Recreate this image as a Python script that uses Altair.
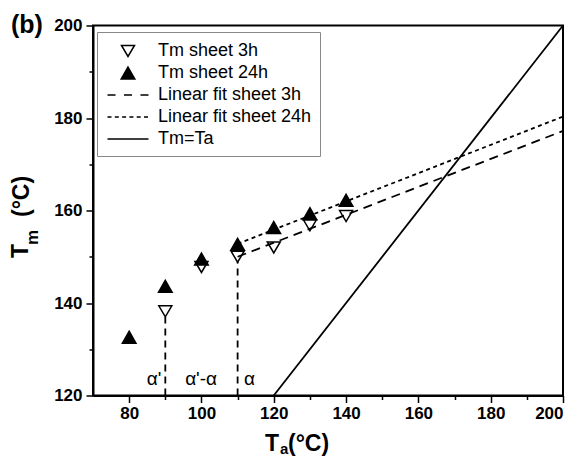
import altair as alt
import pandas as pd

# ---- data ----
ta_3h = [90, 100, 110, 120, 130, 140]
tm_3h = [138.2, 147.8, 150.0, 152.0, 156.8, 158.8]
ta_24h = [80, 90, 100, 110, 120, 130, 140]
tm_24h = [132.6, 143.6, 149.5, 152.7, 156.3, 159.3, 162.2]

fit3_ta = [110, 200]
fit3_tm = [150.0, 177.2]
fit24_ta = [110, 200]
fit24_tm = [152.8, 180.3]
eq_ta = [120, 200]
eq_tm = [120, 200]

phase_ta = [90, 110]
phase_lo = [120, 120]
phase_hi = [137.0, 149.0]

ann_text = ["α'", "α'-α", "α"]
ann_ta = [86.9, 99.9, 113.3]
ann_tm = [122.2, 122.2, 122.2]

series_labels = ["Tm sheet 3h", "Tm sheet 24h", "Linear fit sheet 3h",
                 "Linear fit sheet 24h", "Tm=Ta"]

x_major = [80, 100, 120, 140, 160, 180, 200]
x_minor = [90, 110, 130, 150, 170, 190]
y_major = [120, 140, 160, 180, 200]
y_minor = [130, 150, 170, 190]

# ---- symbol paths (unit space) ----
TRI_DOWN = "M-0.65,-0.55L0.65,-0.55L0,0.55Z"
TRI_UP = "M0,-0.6L0.68,0.6L-0.68,0.6Z"
DASH = "M-2.05,0L-1.25,0M-0.4,0L0.4,0M1.25,0L2.05,0"
DOT = ("M-2.05,0L-1.65,0M-1.32,0L-0.92,0M-0.59,0L-0.19,0"
       "M0.14,0L0.54,0M0.87,0L1.27,0M1.6,0L2.0,0")
SOLID = "M-2.05,0L2.05,0"

FONT = "Liberation Sans"

pts = pd.DataFrame({
    "ta": ta_3h + ta_24h,
    "tm": tm_3h + tm_24h,
    "series": [series_labels[0]] * len(ta_3h) + [series_labels[1]] * len(ta_24h),
})
fit3 = pd.DataFrame({"ta": fit3_ta, "tm": fit3_tm})
fit24 = pd.DataFrame({"ta": fit24_ta, "tm": fit24_tm})
eq = pd.DataFrame({"ta": eq_ta, "tm": eq_tm})
phase = pd.DataFrame({"ta": phase_ta, "lo": phase_lo, "hi": phase_hi})
ann = pd.DataFrame({"ta": ann_ta, "tm": ann_tm, "txt": ann_text})

xs = alt.Scale(domain=[70, 200], nice=False, zero=False)
ys = alt.Scale(domain=[120, 200], nice=False, zero=False)

major_x = alt.Axis(values=x_major, tickSize=7, title=None, orient="bottom",
                   labelPadding=3, grid=False)
major_y = alt.Axis(values=y_major, tickSize=7, title=None, orient="left",
                   labelPadding=4, grid=False)
minor_x = alt.Axis(values=x_minor, tickSize=4, labels=False, domain=False,
                   title=None, orient="bottom", grid=False)
minor_y = alt.Axis(values=y_minor, tickSize=4, labels=False, domain=False,
                   title=None, orient="left", grid=False)

leg = alt.Legend(orient="none", legendX=4, legendY=6.5, strokeColor="#888888",
                 fillColor="white", padding=8, labelFont=FONT, labelFontSize=18,
                 labelColor="black", symbolSize=400, symbolStrokeColor="black",
                 symbolStrokeWidth=1.5, symbolOffset=12, labelOffset=19,
                 rowPadding=2)

base_x = alt.X("ta:Q", scale=xs, axis=None)
base_y = alt.Y("tm:Q", scale=ys, axis=None)

fit3_layer = alt.Chart(fit3).mark_line(color="black", strokeWidth=1.8,
                                       strokeDash=[9, 6]).encode(x=base_x, y=base_y)
fit24_layer = alt.Chart(fit24).mark_line(color="black", strokeWidth=1.8,
                                         strokeDash=[4, 3.5]).encode(x=base_x, y=base_y)
eq_layer = alt.Chart(eq).mark_line(color="black", strokeWidth=1.8).encode(
    x=alt.X("ta:Q", scale=xs, axis=minor_x),
    y=alt.Y("tm:Q", scale=ys, axis=minor_y))
phase_layer = alt.Chart(phase).mark_rule(color="black", strokeWidth=1.8,
                                         strokeDash=[7, 5]).encode(
    x=base_x, y=alt.Y("lo:Q", scale=ys, axis=None), y2="hi:Q")

pts_layer = alt.Chart(pts).mark_point(filled=True, size=400,
                                      strokeWidth=1.5, opacity=1).encode(
    x=alt.X("ta:Q", scale=xs, axis=major_x),
    y=alt.Y("tm:Q", scale=ys, axis=major_y),
    shape=alt.Shape("series:N", title=None, legend=leg,
                    scale=alt.Scale(domain=series_labels,
                                    range=[TRI_DOWN, TRI_UP, DASH, DOT, SOLID])),
    fill=alt.Fill("series:N", title=None, legend=leg,
                  scale=alt.Scale(domain=series_labels,
                                  range=["white", "black", "transparent",
                                         "transparent", "transparent"])),
    stroke=alt.Stroke("series:N", title=None, legend=leg,
                      scale=alt.Scale(domain=series_labels,
                                      range=["black"] * 5)),
)

ann_layer = alt.Chart(ann).mark_text(font=FONT, fontSize=19, color="black",
                                     align="center", baseline="alphabetic").encode(
    x=base_x, y=base_y, text="txt:N")


def label(txt, x, y, size, angle=0, weight="bold"):
    return alt.Chart(pd.DataFrame({"t": [txt]})).mark_text(
        font=FONT, fontSize=size, fontWeight=weight, color="black",
        align="left", baseline="alphabetic", angle=angle).encode(
        x=alt.value(x), y=alt.value(y), text="t:N")


OX, OY = 93, 25.5
titles = [
    label("T", 265 - OX, 451 - OY, 23),
    label("a", 280 - OX, 454 - OY, 15),
    label("(°C)", 288 - OX, 451 - OY, 23),
    label("T", 28 - OX, 258 - OY, 23, angle=270),
    label("m", 38 - OX, 245 - OY, 17, angle=270),
    label("(°C)", 29 - OX, 217 - OY, 23, angle=270),
    label("(b)", 11 - OX, 33 - OY, 25),
]

chart = alt.layer(
    pts_layer, fit3_layer, fit24_layer, eq_layer, phase_layer, ann_layer, *titles
).resolve_axis(x="independent", y="independent").properties(
    width=470, height=370,
    autosize=alt.AutoSizeParams(type="none"),
    padding={"left": OX, "top": OY, "right": 15, "bottom": 62.5},
    background="white",
).configure_view(stroke="black", strokeWidth=2).configure_axis(
    domainColor="black", domainWidth=2, tickColor="black", tickWidth=1.5,
    labelFont=FONT, labelFontWeight="bold", labelFontSize=17, labelColor="black",
    grid=False,
)

chart.save("out.html", embed_options={"renderer": "svg", "actions": False})
